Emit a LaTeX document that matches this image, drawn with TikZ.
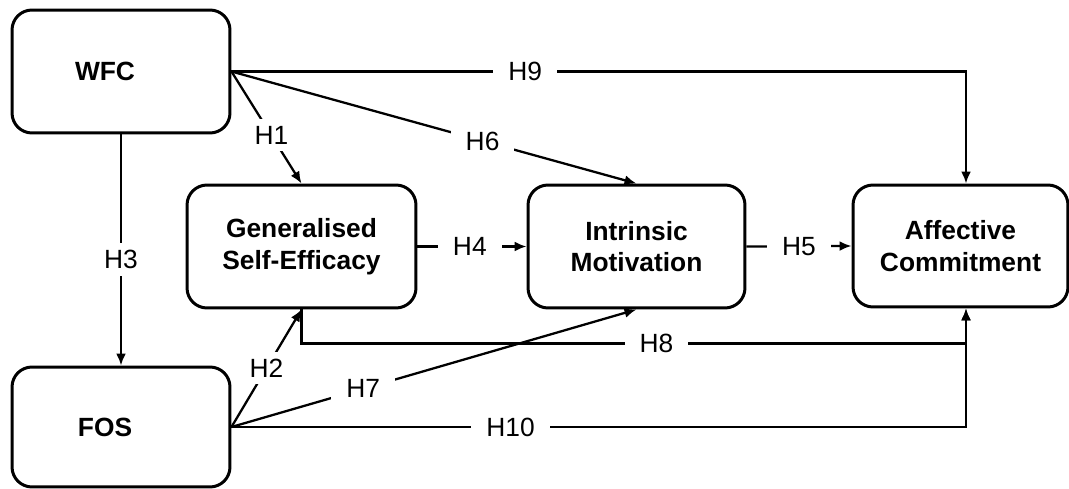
\documentclass[tikz,border=0pt]{standalone}
\usepackage{fontspec}
\setmainfont{Liberation Sans}
\usetikzlibrary{arrows.meta}

\tikzset{
  box/.style={draw, line width=1.7pt, rounded corners=0.4cm, align=center,
    font=\fontsize{15}{18}\selectfont\bfseries},
  hyp/.style={fill=white, inner xsep=0.3cm, inner ysep=0.14cm,
    font=\fontsize{15}{18}\selectfont},
  path/.style={->, line width=1.3pt}
}

\begin{document}
\begin{tikzpicture}[x=0.02cm, y=-0.02cm, >={Latex[length=0.24cm,width=0.2cm]}]
\useasboundingbox (0,0) rectangle (1069,489);

% constructs
\node[box, minimum width=4.36cm, minimum height=2.46cm,
  label={[font=\fontsize{15}{18}\selectfont\bfseries, xshift=-0.32cm]center:WFC}] (wfc) at (121,71.5) {};
\node[box, minimum width=4.36cm, minimum height=2.4cm,
  label={[font=\fontsize{15}{18}\selectfont\bfseries, xshift=-0.32cm]center:FOS}] (fos) at (121,427) {};
\node[box, minimum width=4.58cm, minimum height=2.46cm] (gse) at (301.5,246.5) {Generalised\\Self-Efficacy};
\node[box, minimum width=4.34cm, minimum height=2.46cm] (im) at (636.5,246.5) {Intrinsic\\Motivation};
\node[box, minimum width=4.3cm, minimum height=2.44cm] (ac) at (960.5,246) {Affective\\Commitment};

% hypotheses
\draw[path] (wfc.east) -- node[hyp, pos=0.57] {H1} (gse.north);
\draw[path] (fos.east) -- node[hyp, midway] {H2} (gse.south);
\draw[path] (wfc.south) -- node[hyp, pos=0.54] {H3} (fos.north);
\draw[path] (gse.east) -- node[hyp, pos=0.48] {H4} (im.west);
\draw[path] (im.east) -- node[hyp, midway] {H5} (ac.west);
\draw[path] (wfc.east) -- node[hyp, pos=0.62] {H6} (im.north);
\draw[path] (fos.east) -- node[hyp, pos=0.325] {H7} (im.south);
\draw[path] (gse.south) -- ++(0,34) -| node[hyp, pos=0.267] {H8} ([xshift=0.11cm]ac.south);
\draw[path] (wfc.east) -| node[hyp, pos=0.2] {H9} ([xshift=0.11cm]ac.north);
\draw[path] (fos.east) -| node[hyp, pos=0.19] {H10} ([xshift=0.11cm]ac.south);
\end{tikzpicture}
\end{document}
